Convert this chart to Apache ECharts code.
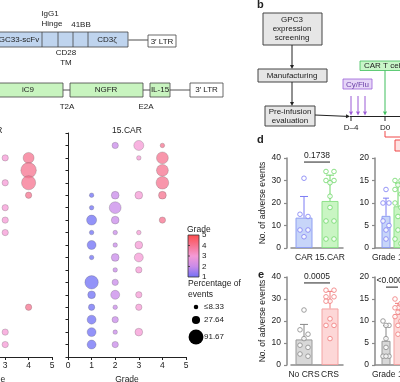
<!DOCTYPE html>
<html><head><meta charset="utf-8">
<script src="https://cdn.jsdelivr.net/npm/echarts@6/dist/echarts.min.js"></script>
<style>html,body{margin:0;padding:0;background:#fff}#c{width:400px;height:382px}</style>
</head><body><div id="c"></div>
<script>
// ---------------- DATA ----------------
const gradeTicks = [0, 1, 2, 3, 4, 5];
const nRows = 17;
// bubble panels: [grade, event row, percentage of events]
const carBubbles = [
  [3,2,16.67],[3,4,16.67],[3,6,16.67],[3,7,16.67],[3,8,16.67],[3,16,16.67],[3,17,16.67],
  [4,2,50],[4,3,100],[4,4,83.33],[4,5,16.67],[4,14,16.67]
];
const car15Bubbles = [
  [1,5,8.33],[1,6,8.33],[1,7,41.67],[1,8,8.33],[1,9,33.33],[1,10,8.33],[1,12,75],[1,13,25],[1,14,16.67],[1,15,33.33],[1,16,33.33],[1,17,33.33],
  [2,1,16.67],[2,5,25],[2,6,58.33],[2,7,25],[2,8,8.33],[2,9,8.33],[2,10,25],[2,11,8.33],[2,12,16.67],[2,13,33.33],[2,14,8.33],[2,15,16.67],[2,16,8.33],[2,17,16.67],
  [3,1,41.67],[3,2,8.33],[3,5,25],[3,8,8.33],[3,9,25],[3,10,33.33],[3,11,16.67],[3,13,16.67],[3,14,16.67],[3,16,25],
  [4,1,8.33],[4,2,58.33],[4,3,58.33],[4,4,66.67],[4,5,25],[4,7,16.67]
];
const legendGrades = ['5', '4', '3', '2', '1'];
const legendPct = [8.33, 27.64, 91.67];
const legendPctLabels = ['\u22648.33', '27.64', '91.67'];

const dLeftCats = ['CAR', '15.CAR'];
const dCAR = [31, 15, 14, 8, 8, 5];
const d15CAR = [34, 34, 30, 30, 29, 23, 18, 12, 12, 4, 4];
const dRightCats = ['Grade 1\u20132'];
const dRightCAR = [13, 10, 10, 6, 5, 4, 2];
const dRight15CAR = [15, 15, 14, 13, 12, 10, 9, 7, 4, 2, 1];
const eLeftCats = ['No CRS', 'CRS'];
const eNoCRS = [25, 16, 14, 12, 9, 8, 5, 4];
const eCRS = [34, 34, 31, 31, 29, 29, 21, 18, 18, 12];
const eRightCats = ['Grade 1\u20132'];
const eRightNoCRS = [10, 9, 9, 6, 4, 2, 2, 2];
const eRightCRS = [15, 14, 13, 13, 12, 12, 11, 10, 9, 7];
const pDLeft = '0.1738', pELeft = '0.0005', pERight = '<0.0001';

// ---------------- STYLE ----------------
const FONT = '"Liberation Sans", Arial, sans-serif';
const FS = 8.5;
const gradeColors = ['#6f6ff6', '#c88ae9', '#f59ad6', '#f6738f', '#ff4c4c'];
const C = {
  car:   {fill:'#c7d5f9', stroke:'#8f9ff2', pt:'#7d7df4'},
  c15:   {fill:'#c9f5c3', stroke:'#8ee28a', pt:'#6fd869'},
  nocrs: {fill:'#d8d8d8', stroke:'#9a9a9a', pt:'#888888'},
  crs:   {fill:'#fdd7d7', stroke:'#f3a3a3', pt:'#f07878'}
};
const AX = '#8a8a8a';
const sizeOf = p => Math.max(4.5, 1.55 * Math.sqrt(p));
const mean = a => a.reduce((s, v) => s + v, 0) / a.length;
const sd = a => { const m = mean(a); return Math.sqrt(a.reduce((s, v) => s + (v - m) * (v - m), 0) / (a.length - 1)); };

function jitter(vals, pxU, half) {
  const idx = vals.map((v, i) => i).sort((a, b) => vals[b] - vals[a]);
  const off = new Array(vals.length).fill(0);
  const pattern = [-half, half, 0];
  let cl = [idx[0]];
  const flush = () => { if (cl.length > 1) cl.forEach((k, j) => off[k] = pattern[j % 3]); };
  for (let i = 1; i < idx.length; i++) {
    if ((vals[idx[i - 1]] - vals[idx[i]]) * pxU < 5) cl.push(idx[i]); else { flush(); cl = [idx[i]]; }
  }
  flush();
  return off;
}

// ---------------- AXES ----------------
const grids = [
  {left:-65, top:133, width:117, height:224},
  {left:68, top:133, width:118, height:224},
  {left:291, top:158, width:52, height:90},
  {left:375, top:158, width:34, height:90},
  {left:291, top:277, width:52, height:88},
  {left:375, top:277, width:34, height:88}
];
const txt = {fontSize:FS, color:'#222', fontFamily:FONT};
const bubbleX = gi => ({type:'value', gridIndex:gi, min:0, max:5, interval:1,
  name:'Grade', nameLocation:'middle', nameGap:16, nameTextStyle:txt,
  axisLine:{onZero:false, lineStyle:{color:'#222', width:1}}, axisTick:{length:3, lineStyle:{color:'#222'}},
  axisLabel:Object.assign({margin:4, formatter:v => gradeTicks.includes(v) ? String(v) : ''}, txt), splitLine:{show:false}});
const bubbleY = gi => ({type:'value', gridIndex:gi, min:0, max:nRows + 1, interval:1, inverse:true,
  axisLine:{show:gi === 1, onZero:false, lineStyle:{color:'#222', width:1}}, axisTick:{show:gi === 1, length:2.5, lineStyle:{color:'#222'}},
  axisLabel:{show:false}, splitLine:{show:false}});
const barX = (gi, data) => ({type:'category', gridIndex:gi, data,
  axisLine:{lineStyle:{color:AX, width:1.5}}, axisTick:{alignWithLabel:true, length:3, lineStyle:{color:AX, width:1.2}},
  axisLabel:Object.assign({margin:5, interval:0}, txt)});
const barY = (gi, max, interval, name, offset) => ({type:'value', gridIndex:gi, min:0, max, interval, offset,
  name, nameLocation:'middle', nameGap:20, nameTextStyle:txt,
  axisLine:{show:true, lineStyle:{color:AX, width:1.5}}, axisTick:{show:true, length:3, lineStyle:{color:AX, width:1.2}},
  axisLabel:Object.assign({margin:6}, txt), splitLine:{show:false}});

const xAxis = [bubbleX(0), bubbleX(1), barX(2, dLeftCats), barX(3, dRightCats), barX(4, eLeftCats), barX(5, eRightCats)];
const yAxis = [bubbleY(0), bubbleY(1), barY(2, 40, 10, 'No. of adverse events', 4), barY(3, 20, 5, '', 0),
  barY(4, 40, 10, 'No. of adverse events', 4), barY(5, 20, 5, '', 0)];

// ---------------- SERIES ----------------
const series = [];
[carBubbles, car15Bubbles].forEach((arr, gi) => series.push({
  type:'scatter', xAxisIndex:gi, yAxisIndex:gi, data:arr, symbolSize:v => sizeOf(v[2]),
  itemStyle:{opacity:0.75, borderColor:'rgba(80,80,80,0.55)', borderWidth:0.6}, silent:true
}));

function addGroup(ai, cat, nCats, vals, c, off, barW, barGap, half, pxU, cap) {
  const m = mean(vals), s = sd(vals);
  const data = new Array(nCats).fill('-'); data[cat] = m;
  series.push({type:'bar', xAxisIndex:ai, yAxisIndex:ai, data, barWidth:barW, barGap, z:2, silent:true,
    itemStyle:{color:c.fill, borderColor:c.stroke, borderWidth:1}});
  series.push({type:'custom', xAxisIndex:ai, yAxisIndex:ai, z:3, silent:true, data:[[cat, m, s]],
    renderItem:(p, api) => {
      const a = api.coord([api.value(0), api.value(1)]);
      const b = api.coord([api.value(0), api.value(1) + api.value(2)]);
      const x = a[0] + off;
      return {type:'group', children:[
        {type:'line', shape:{x1:x, y1:a[1], x2:x, y2:b[1]}, style:{stroke:c.pt, lineWidth:1}},
        {type:'line', shape:{x1:x - cap, y1:b[1], x2:x + cap, y2:b[1]}, style:{stroke:c.pt, lineWidth:1}}
      ]};
    }});
  const jit = jitter(vals, pxU, half);
  series.push({type:'scatter', xAxisIndex:ai, yAxisIndex:ai, z:4, silent:true, symbol:'circle', symbolSize:4.6,
    itemStyle:{color:'#fff', borderColor:c.pt, borderWidth:1},
    data:vals.map((v, i) => ({value:[cat, v], symbolOffset:[off + jit[i], 0]}))});
}
function addBracket(ai, catA, catB, offA, offB, y, label) {
  series.push({type:'custom', xAxisIndex:ai, yAxisIndex:ai, z:5, silent:true, data:[[catA, catB, y]],
    renderItem:(p, api) => {
      const a = api.coord([api.value(0), api.value(2)]);
      const b = api.coord([api.value(1), api.value(2)]);
      const x1 = a[0] + offA, x2 = b[0] + offB, yy = a[1];
      return {type:'group', children:[
        {type:'line', shape:{x1, y1:yy, x2, y2:yy}, style:{stroke:'#222', lineWidth:1}},
        {type:'text', x:(x1 + x2) / 2, y:yy - 2, style:{text:label, fill:'#222', font:`${FS}px ${FONT}`, align:'center', verticalAlign:'bottom'}}
      ]};
    }});
}
addGroup(2, 0, 2, dCAR, C.car, 0, 17, '-100%', 4, 2.25, 4);
addGroup(2, 1, 2, d15CAR, C.c15, 0, 17, '-100%', 4, 2.25, 4);
addBracket(2, 0, 1, 0, 0, 38.2, pDLeft);
addGroup(3, 0, 1, dRightCAR, C.car, -6, 9, '33%', 3, 4.5, 3);
addGroup(3, 0, 1, dRight15CAR, C.c15, 6, 9, '33%', 3, 4.5, 3);
addGroup(4, 0, 2, eNoCRS, C.nocrs, 0, 17, '-100%', 4, 2.2, 4);
addGroup(4, 1, 2, eCRS, C.crs, 0, 17, '-100%', 4, 2.2, 4);
addBracket(4, 0, 1, 0, 0, 37.3, pELeft);
addGroup(5, 0, 1, eRightNoCRS, C.nocrs, -6, 9, '33%', 3, 4.4, 3);
addGroup(5, 0, 1, eRightCRS, C.crs, 6, 9, '33%', 3, 4.4, 3);
addBracket(5, 0, 0, -6, 6, 17.7, pERight);

// ---------------- GRAPHIC (schematics & legends) ----------------
const G = [];
const T = (x, y, text, o = {}) => G.push({type:'text', x, y, silent:true,
  style:Object.assign({text, fill:'#222', font:`${o.size || 8}px ${FONT}`, align:'center', verticalAlign:'middle'}, o.s || {})});
const R = (x, y, w, h, fill, stroke = '#444', lw = 0.8) => G.push({type:'rect', silent:true, shape:{x, y, width:w, height:h}, style:{fill, stroke, lineWidth:lw}});
const L = (x1, y1, x2, y2, stroke, lw = 1) => G.push({type:'line', silent:true, shape:{x1, y1, x2, y2}, style:{stroke, lineWidth:lw}});
function A(x1, y1, x2, y2, color, lw = 1) {
  const ang = Math.atan2(y2 - y1, x2 - x1), Ln = 4, W = 2;
  const bx = x2 - Ln * Math.cos(ang), by = y2 - Ln * Math.sin(ang);
  L(x1, y1, bx, by, color, lw);
  G.push({type:'polygon', silent:true, shape:{points:[[x2, y2], [bx - W * Math.sin(ang), by + W * Math.cos(ang)], [bx + W * Math.sin(ang), by - W * Math.cos(ang)]]}, style:{fill:color}});
}
// construct 1
R(-2, 32, 130, 15, '#bfd4ee');
[42, 58, 73, 88].forEach(x => L(x, 32, x, 47, '#444', 0.8));
T(19, 40, 'GC33-scFv'); T(107, 40, 'CD3\u03b6');
L(128, 40, 148, 40, '#888', 1.5);
R(148, 35, 28, 12, '#fff'); T(162, 41.5, "3\u2032 LTR");
T(50, 14, 'IgG1'); T(52, 24, 'Hinge'); T(81, 25, '41BB'); T(66, 53, 'CD28'); T(66, 63, 'TM');
// construct 2
R(-2, 83, 65, 14, '#c8f4bf'); T(28, 90, 'iC9');
L(63, 90, 70, 90, '#555', 1);
R(70, 83, 73, 14, '#c8f4bf'); T(106, 90, 'NGFR');
L(143, 90, 150, 90, '#555', 1);
R(150, 83, 20, 14, '#c8f4bf'); T(160, 90, 'IL-15');
L(170, 90, 190, 90, '#555', 1);
R(190, 83, 33, 14, '#fff'); T(206.5, 90, "3\u2032 LTR");
T(67, 107, 'T2A'); T(146, 107, 'E2A');
// panel b
T(257, 5, 'b', {size:11, s:{align:'left', font:`bold 11px ${FONT}`}});
R(263, 13, 59, 32, '#e6e6e6', '#444', 1);
T(292, 20, 'GPC3'); T(292, 29, 'expression'); T(292, 38, 'screening');
A(292, 45, 292, 69, '#222');
R(258, 69, 69, 13, '#e6e6e6', '#444', 1); T(292, 75.5, 'Manufacturing');
A(292, 82, 292, 106, '#222');
R(265, 106, 50, 20, '#e6e6e6', '#444', 1); T(290, 111.5, 'Pre-infusion'); T(290, 120.5, 'evaluation');
A(315, 115, 350, 116.5, '#222');
L(350, 116.5, 402, 116.5, '#222', 1);
L(351, 116.5, 351, 121, '#222', 1); L(385, 116.5, 385, 121, '#222', 1);
T(351, 128, 'D\u20134'); T(385, 128, 'D0');
R(343, 79, 29, 10, '#e6d6f7', '#9a5fd8', 0.8); T(357.5, 84.5, 'Cy/Flu', {s:{fill:'#6a3ea6'}});
[351, 358, 365].forEach(x => A(x, 96, x, 115.5, '#9b5bd6'));
R(360, 61, 50, 9.5, '#c8f6c8', '#3fbf5c', 0.8); T(364, 66, 'CAR T cells', {s:{align:'left'}});
A(385, 70.5, 385, 115.5, '#3fbf5c');
G.push({type:'polyline', silent:true, shape:{points:[[385, 131], [385, 137], [402, 137]]}, style:{stroke:'#f04848', lineWidth:1, fill:null}});
R(395, 140, 12, 11, '#fde2e2', '#f04848', 1);
// panel letters
T(257, 140, 'd', {s:{align:'left', font:`bold 11px ${FONT}`}});
T(258, 275, 'e', {s:{align:'left', font:`bold 11px ${FONT}`}});
// bubble titles
T(-6.5, 131, 'CAR', {size:FS}); T(127, 131, '15.CAR', {size:FS});
// grade colour bar
T(187, 230, 'Grade', {size:FS, s:{align:'left'}});
G.push({type:'rect', silent:true, shape:{x:188, y:235, width:11, height:42},
  style:{stroke:'#333', lineWidth:0.8, fill:new echarts.graphic.LinearGradient(0, 0, 0, 1,
    gradeColors.slice().reverse().map((c, i) => ({offset:i / (gradeColors.length - 1), color:c})))}});
legendGrades.forEach((g, i) => {
  const y = 235 + i * 42 / (legendGrades.length - 1);
  T(202, y, g, {size:8, s:{align:'left'}});
  if (i > 0 && i < legendGrades.length - 1) L(188, y, 190, y, '#333', 0.8);
});
T(188, 284, 'Percentage of', {size:FS, s:{align:'left'}});
T(188, 295, 'events', {size:FS, s:{align:'left'}});
[307, 320, 337].forEach((y, i) => {
  G.push({type:'circle', silent:true, shape:{cx:196, cy:y, r:sizeOf(legendPct[i]) / 2}, style:{fill:'#000'}});
  T(204, y, legendPctLabels[i], {size:8, s:{align:'left'}});
});

const chart = echarts.init(document.getElementById('c'), null, {renderer:'canvas'});
chart.setOption({
  animation:false,
  textStyle:{fontFamily:FONT},
  grid:grids.map(g => Object.assign({containLabel:false, outerBoundsMode:'none'}, g)),
  xAxis, yAxis,
  visualMap:{show:false, type:'continuous', min:1, max:5, dimension:0, seriesIndex:[0, 1], inRange:{color:gradeColors}},
  series,
  graphic:G
});
</script></body></html>
